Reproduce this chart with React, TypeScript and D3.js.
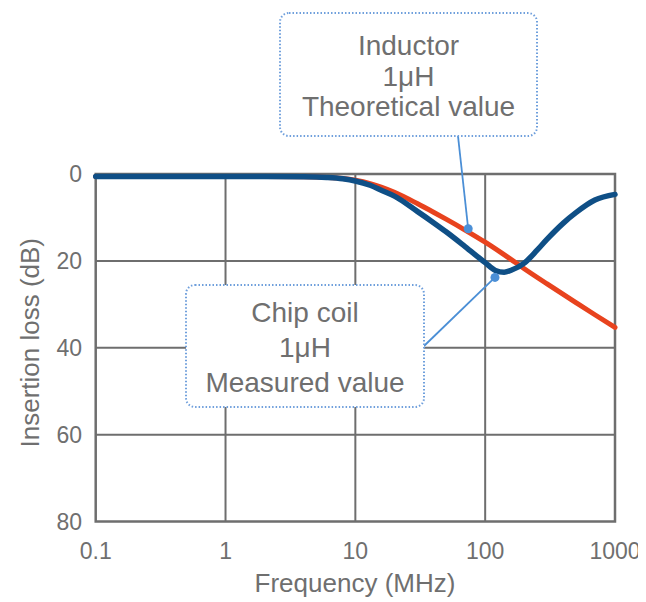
import React from "react";
import * as d3 from "d3";

const W = 646;
const H = 602;

// X axis ticks (MHz) and Y ticks (dB)
const xTicks = [0.1, 1, 10, 100, 1000];
const xTickLabels = ["0.1", "1", "10", "100", "1000"];
const yTicks = [0, 20, 40, 60, 80];

// Inductor 1µH theoretical value (red)
const theoFreq = [0.1, 1, 2, 4, 6, 8, 10, 13, 16, 20, 30, 40, 50, 70, 100, 150, 200, 300, 500, 700, 1000];
const theoLoss = [0.6, 0.6, 0.6, 0.65, 0.8, 1.05, 1.45, 2.2, 3.05, 4.2, 6.8, 8.8, 10.4, 12.9, 15.7, 19.2, 21.8, 25.3, 29.6, 32.4, 35.3];

// Chip coil 1µH measured value (blue)
const measFreq = [0.1, 1, 2, 4, 6, 8, 10, 13, 16, 20, 30, 40, 50, 70, 100, 120, 140, 160, 200, 250, 300, 400, 500, 700, 1000];
const measLoss = [0.6, 0.6, 0.6, 0.65, 0.8, 1.1, 1.6, 2.6, 3.8, 5.1, 8.6, 11.2, 13.3, 16.7, 20.4, 22.2, 22.6, 22.1, 20.5, 17.6, 15.0, 11.3, 8.9, 6.0, 4.7];

// Annotations
const annoTopLines = ["Inductor", "1μH", "Theoretical value"];
const annoTopAnchor = { f: 74, db: 12.6 };
const annoBottomLines = ["Chip coil", "1μH", "Measured value"];
const annoBottomAnchor = { f: 119, db: 23.8 };

const FONT = "'Liberation Sans', Arial, Helvetica, sans-serif";
const TEXT = "#6f6f6f";
const GRID = "#6e6e6e";
const RED = "#e8431e";
const BLUE = "#0f4f86";
const LEAD = "#4b8fd6";
const BOX = "#6f9fdc";

export default function App() {
  const x = d3.scaleLog().domain([0.1, 1000]).range([95.7, 615]);
  const y = d3.scaleLinear().domain([0, 80]).range([174, 521.5]);

  const line = d3
    .line<[number, number]>()
    .x((d) => x(d[0]))
    .y((d) => y(d[1]))
    .curve(d3.curveMonotoneX);

  const theo = theoFreq.map((f, i) => [f, theoLoss[i]] as [number, number]);
  const meas = measFreq.map((f, i) => [f, measLoss[i]] as [number, number]);

  const topBox = { x0: 280, x1: 537, y0: 13, y1: 136 };
  const botBox = { x0: 186, x1: 424, y0: 285, y1: 407 };
  const topCx = (topBox.x0 + topBox.x1) / 2;
  const botCx = (botBox.x0 + botBox.x1) / 2;

  const [x0, x1] = x.range();
  const [y0, y1] = y.range();

  return (
    <svg
      width={W}
      height={H}
      style={{ position: "absolute", left: 0, top: 0, background: "#fff" }}
      fontFamily={FONT}
    >
      <defs>
        <clipPath id="pageclip">
          <rect x={0} y={0} width={638} height={H} />
        </clipPath>
      </defs>
      {/* grid */}
      {xTicks.slice(1, -1).map((t) => (
        <line key={"vx" + t} x1={x(t)} x2={x(t)} y1={y0} y2={y1} stroke={GRID} strokeWidth={2} />
      ))}
      {yTicks.slice(1, -1).map((t) => (
        <line key={"hy" + t} x1={x0} x2={x1} y1={y(t)} y2={y(t)} stroke={GRID} strokeWidth={2} />
      ))}
      <rect x={x0} y={y0} width={x1 - x0} height={y1 - y0} fill="none" stroke={GRID} strokeWidth={2.5} />

      {/* y tick labels */}
      {yTicks.map((t) => (
        <text key={"yl" + t} x={82} y={y(t)} dy="0.36em" textAnchor="end" fontSize={23} fill={TEXT}>
          {t}
        </text>
      ))}
      {/* x tick labels */}
      <g clipPath="url(#pageclip)">
        {xTicks.map((t, i) => (
          <text key={"xl" + t} x={x(t)} y={559} textAnchor="middle" fontSize={23} fill={TEXT}>
            {xTickLabels[i]}
          </text>
        ))}
      </g>
      <text x={355} y={592} textAnchor="middle" fontSize={26} fill={TEXT}>
        Frequency (MHz)
      </text>
      <text
        transform={`translate(39, ${(y0 + y1) / 2 - 5}) rotate(-90)`}
        textAnchor="middle"
        fontSize={26}
        fill={TEXT}
      >
        Insertion loss (dB)
      </text>

      {/* curves */}
      <path d={line(theo) || ""} fill="none" stroke={RED} strokeWidth={5} strokeLinecap="round" />
      <path d={line(meas) || ""} fill="none" stroke={BLUE} strokeWidth={5.5} strokeLinecap="round" />

      {/* leader lines */}
      <line
        x1={458}
        y1={topBox.y1}
        x2={x(annoTopAnchor.f)}
        y2={y(annoTopAnchor.db)}
        stroke={LEAD}
        strokeWidth={1.8}
      />
      <circle cx={x(annoTopAnchor.f)} cy={y(annoTopAnchor.db)} r={4.5} fill={LEAD} />
      <line
        x1={botBox.x1}
        y1={(botBox.y0 + botBox.y1) / 2}
        x2={x(annoBottomAnchor.f)}
        y2={y(annoBottomAnchor.db)}
        stroke={LEAD}
        strokeWidth={1.8}
      />
      <circle cx={x(annoBottomAnchor.f)} cy={y(annoBottomAnchor.db)} r={4.5} fill={LEAD} />

      {/* annotation boxes */}
      <rect
        x={topBox.x0}
        y={topBox.y0}
        width={topBox.x1 - topBox.x0}
        height={topBox.y1 - topBox.y0}
        rx={9}
        fill="#fff"
        stroke={BOX}
        strokeWidth={2}
        strokeDasharray="1.5 2"
      />
      {annoTopLines.map((s, i) => (
        <text key={"tt" + i} x={topCx} y={55 + i * 30.5} textAnchor="middle" fontSize={28} fill={TEXT}>
          {s}
        </text>
      ))}
      <rect
        x={botBox.x0}
        y={botBox.y0}
        width={botBox.x1 - botBox.x0}
        height={botBox.y1 - botBox.y0}
        rx={9}
        fill="#fff"
        stroke={BOX}
        strokeWidth={2}
        strokeDasharray="1.5 2"
      />
      {annoBottomLines.map((s, i) => (
        <text key={"bt" + i} x={botCx} y={322 + i * 35} textAnchor="middle" fontSize={28} fill={TEXT}>
          {s}
        </text>
      ))}
    </svg>
  );
}
